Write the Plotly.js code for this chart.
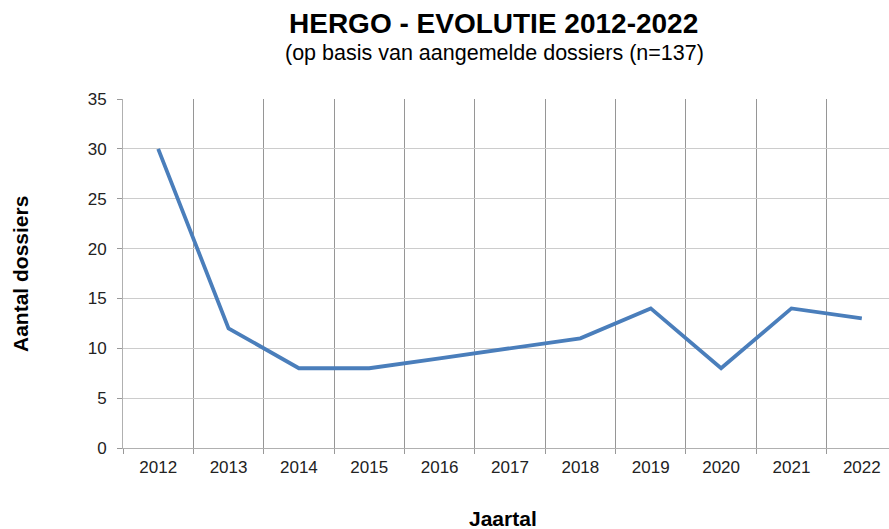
<!DOCTYPE html>
<html><head><meta charset="utf-8">
<script src="https://cdn.plot.ly/plotly-3.0.1.min.js"></script>
<style>html,body{margin:0;padding:0;overflow:hidden;background:#fff}#chart{width:900px;height:529px}</style>
</head><body><div id="chart"></div>
<script>
const years = ['2012','2013','2014','2015','2016','2017','2018','2019','2020','2021','2022'];
const dossiers = [30, 12, 8, 8, 9, 10, 11, 14, 8, 14, 13];
const yTicks = [0, 5, 10, 15, 20, 25, 30, 35];

const W = 900, H = 529, L = 123, R = 3, T = 99, B = 81;
const pw = W - L - R, ph = H - T - B;
const px = x => (x - L) / pw;
const py = y => (H - B - y) / ph;
const font = 'Liberation Sans, Arial, sans-serif';

Plotly.newPlot('chart', [{
  x: years, y: dossiers, type: 'scatter', mode: 'lines',
  line: {color: '#4a7ebb', width: 3.8}, hoverinfo: 'skip'
}], {
  width: W, height: H,
  margin: {l: L, r: R, t: T, b: B, pad: 0},
  paper_bgcolor: '#fff', plot_bgcolor: '#fff',
  showlegend: false,
  font: {family: font, size: 17, color: '#222'},
  xaxis: {
    type: 'category', tickson: 'boundaries', ticks: 'outside', ticklen: 5,
    tickcolor: '#999', showgrid: true, gridcolor: '#969696', gridwidth: 1,
    showline: true, linecolor: '#b0b0b0', linewidth: 1,
    tickfont: {size: 17, color: '#222'}, range: [-0.5, 10.5], fixedrange: true,
    ticklabelstandoff: 4
  },
  yaxis: {
    range: [0, 35], tickvals: yTicks, ticks: 'outside', ticklen: 5, tickcolor: '#999',
    showgrid: true, gridcolor: '#cccccc', gridwidth: 1, zeroline: false,
    showline: true, linecolor: '#b0b0b0', linewidth: 1,
    tickfont: {size: 17, color: '#222'}, fixedrange: true,
    ticklabelstandoff: 7
  },
  annotations: [
    {text: '<b>HERGO - EVOLUTIE 2012-2022</b>', xref: 'paper', yref: 'paper',
     x: px(493), y: py(23), showarrow: false, xanchor: 'center', yanchor: 'middle',
     font: {family: font, size: 28, color: '#000'}},
    {text: '(op basis van aangemelde dossiers (n=137)', xref: 'paper', yref: 'paper',
     x: px(494), y: py(53), showarrow: false, xanchor: 'center', yanchor: 'middle',
     font: {family: font, size: 21.5, color: '#000'}},
    {text: '<b>Aantal dossiers</b>', xref: 'paper', yref: 'paper',
     x: px(20), y: py(274), showarrow: false, textangle: -90, xanchor: 'center', yanchor: 'middle',
     font: {family: font, size: 21, color: '#000'}},
    {text: '<b>Jaartal</b>', xref: 'paper', yref: 'paper',
     x: px(503), y: py(518), showarrow: false, xanchor: 'center', yanchor: 'middle',
     font: {family: font, size: 21, color: '#000'}}
  ]
}, {displayModeBar: false, staticPlot: true});
</script></body></html>
